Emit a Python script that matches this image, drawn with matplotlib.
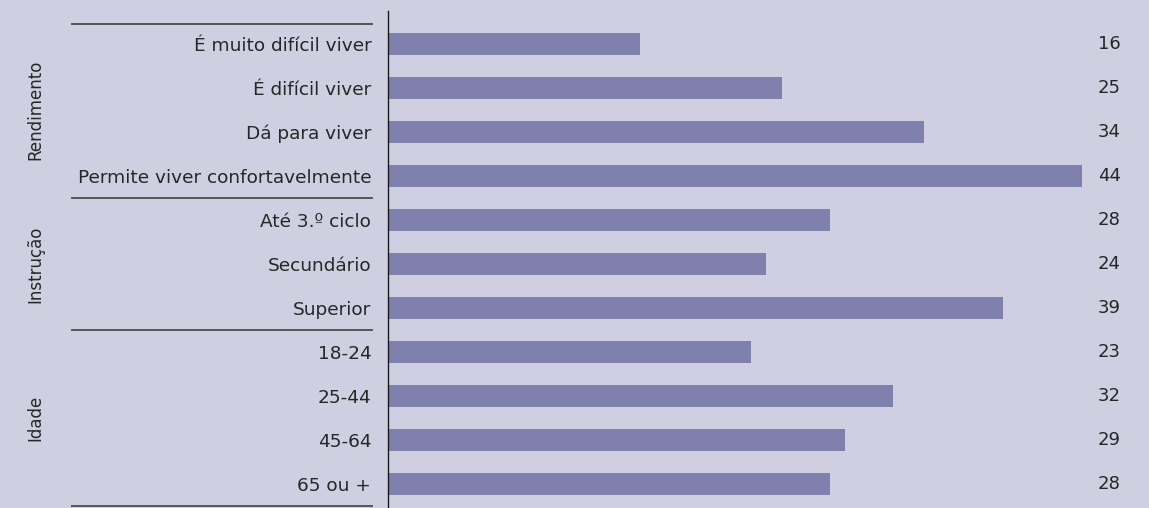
import matplotlib.pyplot as plt
import matplotlib.transforms as mtransforms

categorias = ['É muito difícil viver', 'É difícil viver', 'Dá para viver',
              'Permite viver confortavelmente', 'Até 3.º ciclo', 'Secundário',
              'Superior', '18-24', '25-44', '45-64', '65 ou +']
valores = [16, 25, 34, 44, 28, 24, 39, 23, 32, 29, 28]
grupos = ['Rendimento', 'Instrução', 'Idade']
tamanho_grupos = [4, 3, 4]

fundo = '#d0cfe2'
cor_barra = '#7f80ae'
cor_texto = '#262626'

plt.rcParams['font.family'] = ['DejaVu Sans']

fig = plt.figure(figsize=(11.49, 5.08), dpi=100, facecolor=fundo)
ax = fig.add_axes([388 / 1149, 0, 1 - 388 / 1149, 497 / 508])
ax.set_facecolor(fundo)

y = list(range(len(categorias)))
ax.barh(y, valores, height=0.5, color=cor_barra, left=0)
ax.set_ylim(10.545, -0.75)
ax.set_xlim(0, (1149 - 388) / 15.77)

ax.set_yticks(y)
ax.set_yticklabels(categorias, fontsize=13.3, color=cor_texto)
ax.tick_params(axis='y', length=0, pad=12)
ax.set_xticks([])
for s in ['top', 'right', 'bottom']:
    ax.spines[s].set_visible(False)
ax.spines['left'].set_color('#1a1a1a')
ax.spines['left'].set_linewidth(1.0)

for yi, v in zip(y, valores):
    ax.text(45, yi, str(v), va='center', ha='left', fontsize=13, color=cor_texto,
            clip_on=False)

# linhas separadoras dos grupos e títulos rodados
trans = mtransforms.blended_transform_factory(fig.transFigure, ax.transData)
limites = [-0.45, 3.5, 6.5, 10.5]
for b in limites:
    ax.plot([72 / 1149, 372 / 1149], [b, b], transform=trans, color='#555555',
            lw=1.4, clip_on=False)
for g, a, b in zip(grupos, [-0.5, 3.5, 6.5], limites[1:]):
    fig.text(35 / 1149, (a + b) / 2, g, transform=trans, rotation=90,
             ha='center', va='center', fontsize=12, color=cor_texto)

fig.savefig('out.png', dpi=100, facecolor=fundo)
